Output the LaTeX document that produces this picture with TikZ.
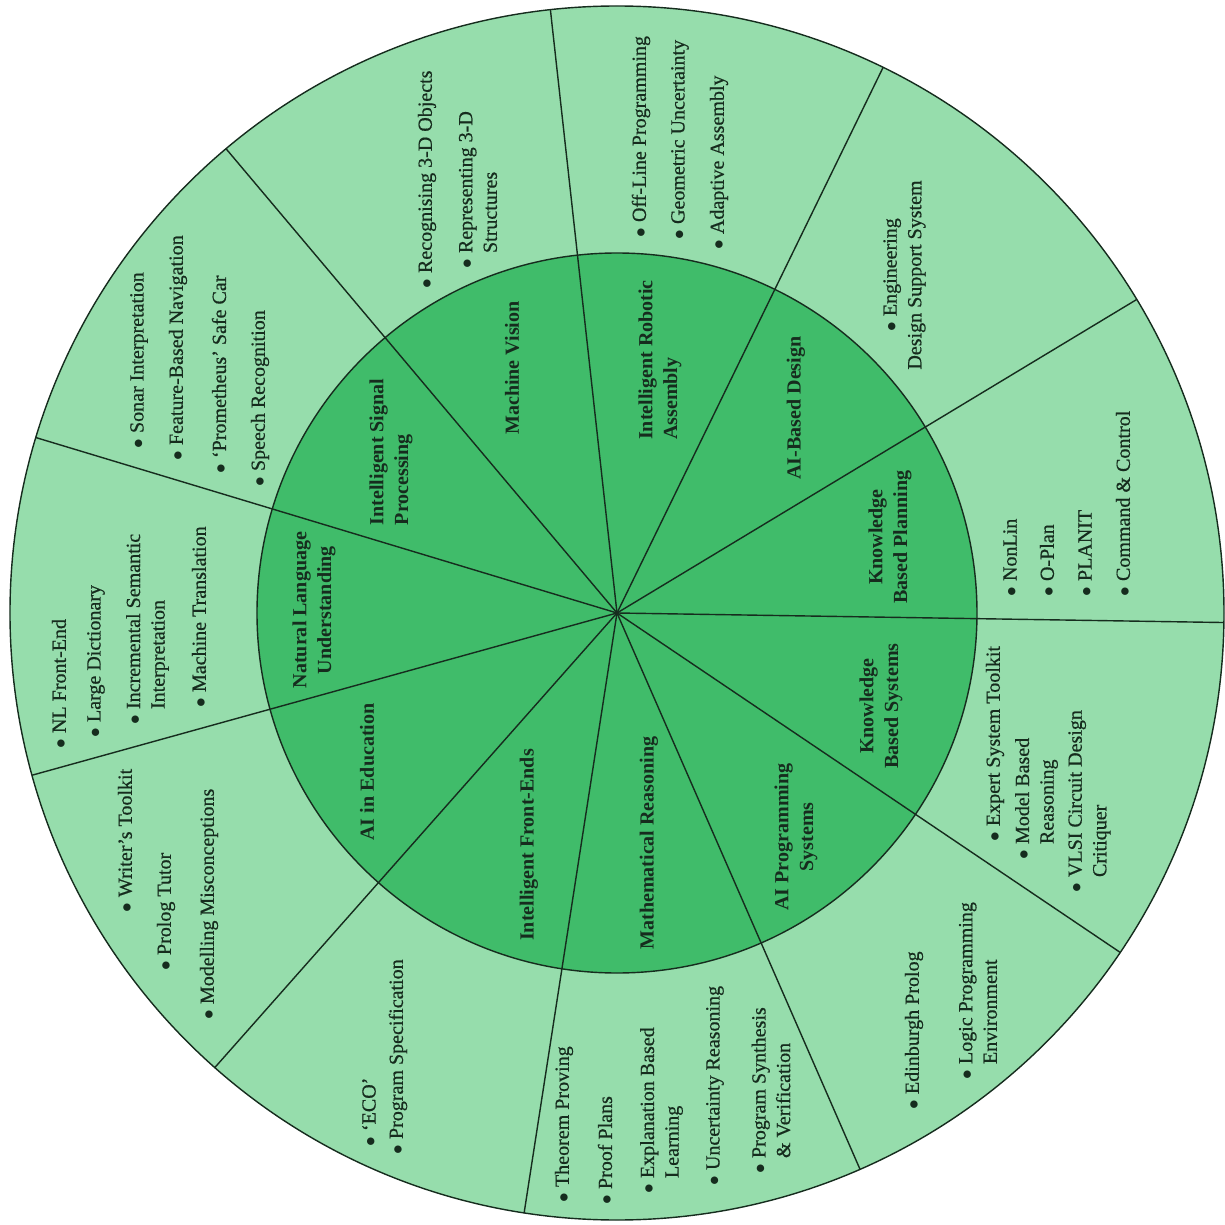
\documentclass[tikz,border=0pt]{standalone}
\usepackage{fontspec}
\setmainfont{Liberation Serif}
\newfontfamily\itemfont{Liberation Serif}[Ligatures=TeX, FakeBold=0.6]
\definecolor{ringgreen}{RGB}{150,221,172}
\definecolor{coregreen}{RGB}{64,188,106}
\definecolor{inkgreen}{RGB}{22,44,30}
\newcommand\dotitem{$\bullet$\hspace{0.3em}}
\newcommand\dotgap{\phantom{$\bullet$\hspace{0.3em}}}
\begin{document}
\begin{tikzpicture}[
  topic/.style={rotate=90, align=center, inner sep=1pt, text=inkgreen,
    font=\fontsize{11.4}{14}\selectfont\bfseries},
  item/.style={rotate=90, anchor=west, align=left, inner sep=0pt, text=inkgreen,
    font=\fontsize{11.4}{14}\selectfont\itemfont}]
  \useasboundingbox (-12.34,-12.24) rectangle (12.16,12.26);
  % ring and core
  \fill[ringgreen] (0,0) circle (12.14);
  \fill[coregreen] (0,0) circle (7.2);
  \draw[line width=0.8pt, inkgreen] (0,0) circle (12.14);
  \draw[line width=0.8pt, inkgreen] (0,0) circle (7.2);
  \foreach \a in {-0.9,31.1,64.0,96.3,130.1,163.2,195.5,228.5,261.2,293.6,326.0}
    \draw[line width=0.8pt, inkgreen] (0,0) -- (\a:12.14);
  % research areas (core)
  \node[topic] (kbp) at (5.46,1.52) {Knowledge\\Based Planning};
  \node[topic] (aid) at (3.58,4.10) {AI-Based Design};
  \node[topic, align=left] (ira) at (0.86,5.06) {Intelligent Robotic\\Assembly};
  \node[topic] (mv) at (-2.10,4.90) {Machine Vision};
  \node[topic, align=left] (isp) at (-4.52,3.22) {Intelligent Signal\\Processing};
  \node[topic] (nlu) at (-6.06,0.06) {Natural Language\\Understanding};
  \node[topic] (aie) at (-5.00,-3.18) {AI in Education};
  \node[topic] (ife) at (-1.76,-4.64) {Intelligent Front-Ends};
  \node[topic] (mr) at (0.64,-4.60) {Mathematical Reasoning};
  \node[topic] (aps) at (3.58,-4.48) {AI Programming\\Systems};
  \node[topic] (kbs) at (5.28,-1.86) {Knowledge\\Based Systems};
  % projects (ring)
  \foreach \x/\y/\t [count=\n] in {
      -3.80/6.48/{\dotitem Recognising 3-D Objects},
      -2.78/6.88/{\dotitem Representing 3-D\\\dotgap Structures},
      -9.56/3.28/{\dotitem Sonar Interpretation},
      -8.78/3.04/{\dotitem Feature-Based Navigation},
      -7.96/2.78/{\dotitem ‘Prometheus’ Safe Car},
      -7.14/2.52/{\dotitem Speech Recognition},
      0.48/7.50/{\dotitem Off-Line Programming},
      1.26/7.46/{\dotitem Geometric Uncertainty},
      2.04/7.26/{\dotitem Adaptive Assembly},
      7.86/0.32/{\dotitem NonLin},
      8.60/0.32/{\dotitem O-Plan},
      9.36/0.32/{\dotitem PLANIT},
      10.12/0.32/{\dotitem Command \& Control},
      -11.16/-2.72/{\dotitem NL Front-End},
      -10.42/-2.50/{\dotitem Large Dictionary},
      -9.39/-2.24/{\dotitem Incremental Semantic\\\dotgap Interpretation},
      -8.36/-1.90/{\dotitem Machine Translation},
      -9.84/-6.00/{\dotitem Writer’s Toolkit},
      -9.02/-7.16/{\dotitem Prolog Tutor},
      -8.16/-8.14/{\dotitem Modelling Misconceptions},
      -4.96/-10.68/{\dotitem ‘ECO’},
      -4.38/-10.84/{\dotitem Program Specification},
      -1.06/-11.80/{\dotitem Theorem Proving},
      -0.24/-11.84/{\dotitem Proof Plans},
      0.89/-11.62/{\dotitem Explanation Based\\\dotgap Learning},
      1.96/-11.46/{\dotitem Uncertainty Reasoning},
      3.08/-11.22/{\dotitem Program Synthesis\\\dotgap \& Verification},
      5.94/-9.94/{\dotitem Edinburgh Prolog},
      7.22/-9.34/{\dotitem Logic Programming\\\dotgap Environment},
      7.56/-4.58/{\dotitem Expert System Toolkit},
      8.39/-4.94/{\dotitem Model Based\\\dotgap Reasoning},
      9.45/-5.60/{\dotitem VLSI Circuit Design\\\dotgap Critiquer}}
    \node[item] (p\n) at (\x,\y) {\t};
  \node[item, anchor=center, align=center] (edss) at (5.75,6.76)
    {\dotitem Engineering\\Design Support System};
\end{tikzpicture}
\end{document}
